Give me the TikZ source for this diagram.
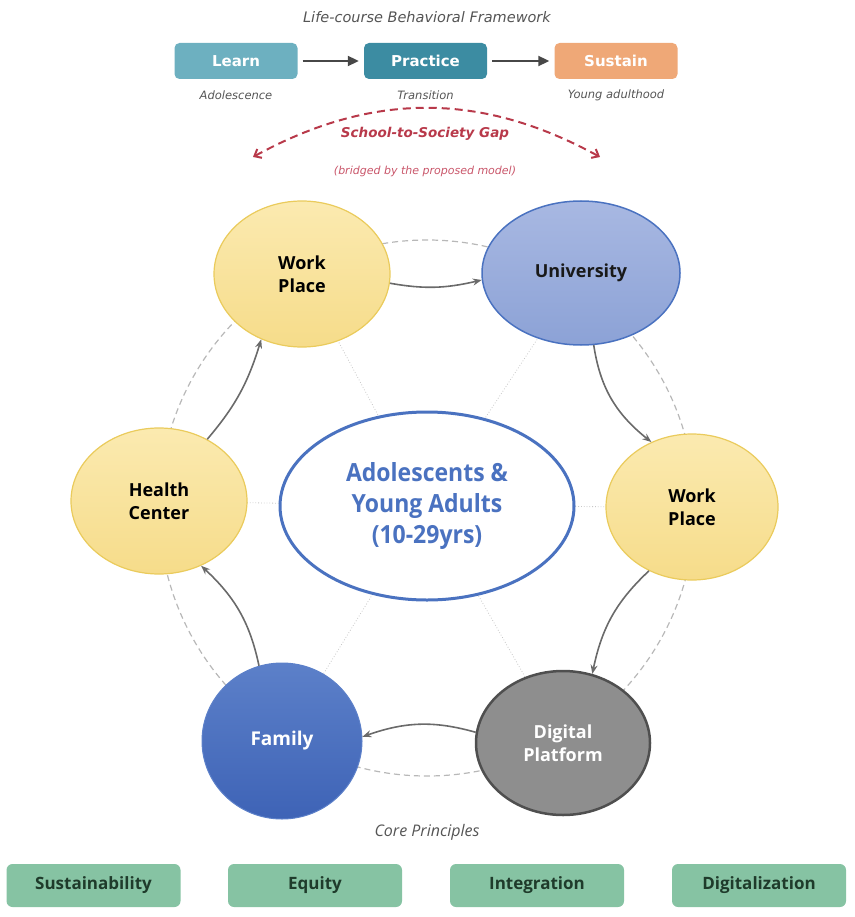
\documentclass[tikz,border=0pt]{standalone}
\usepackage{fontspec}
\setmainfont{DejaVu Sans}
\newfontfamily\osans{Open Sans}
\newfontfamily\osanscond[FakeStretch=0.92]{Open Sans}
\usetikzlibrary{arrows.meta,bending,shapes.geometric}
\definecolor{learnc}{HTML}{6DB0C0}
\definecolor{practc}{HTML}{3C8CA2}
\definecolor{sustc}{HTML}{EFA877}
\definecolor{gapred}{HTML}{B8394A}
\definecolor{bridgec}{HTML}{C9566A}
\definecolor{ytop}{HTML}{FBEAB0}
\definecolor{ybot}{HTML}{F6DC8A}
\definecolor{yborder}{HTML}{EACB5C}
\definecolor{utop}{HTML}{A8B8E2}
\definecolor{ubot}{HTML}{8CA2D6}
\definecolor{ublue}{HTML}{4A72C0}
\definecolor{ftop}{HTML}{5C80C9}
\definecolor{fbot}{HTML}{3E63B6}
\definecolor{dgray}{HTML}{8E8E8E}
\definecolor{dborder}{HTML}{4F4F4F}
\definecolor{greenbox}{HTML}{86C3A3}
\definecolor{greentext}{HTML}{1F3B2B}
\definecolor{arrowg}{HTML}{6A6A6A}
\definecolor{textg}{HTML}{555555}
\begin{document}
\begin{tikzpicture}[x=1pt,y=1pt,
  stagebox/.style={rounded corners=5pt, minimum width=123pt, minimum height=36pt, inner sep=0pt, text=white, font=\fontsize{15}{18}\selectfont\bfseries},
  subtxt/.style={text=textg, font=\fontsize{11.5}{13}\selectfont\itshape},
  toparrow/.style={draw=black!72, line width=2pt, -{Triangle[length=11pt,width=10pt]}},
  ynode/.style={ellipse, draw=yborder, line width=1.2pt, top color=ytop, bottom color=ybot, inner sep=0pt, text=black, align=center, font=\osans\fontsize{18}{23}\selectfont\bfseries},
  unode/.style={ellipse, draw=ublue, line width=1.5pt, top color=utop, bottom color=ubot, inner sep=0pt, text=black!90, align=center, font=\osans\fontsize{18}{23}\selectfont\bfseries},
  fnode/.style={ellipse, draw=ftop, line width=1pt, top color=ftop, bottom color=fbot, inner sep=0pt, text=white, align=center, font=\osans\fontsize{19}{23}\selectfont\bfseries},
  dnode/.style={ellipse, draw=dborder, line width=2.5pt, fill=dgray, inner sep=0pt, text=white, align=center, font=\osans\fontsize{18}{23}\selectfont\bfseries},
  cyc/.style={draw=arrowg, line width=1.6pt, -{Stealth[length=9pt,width=7pt,bend]}},
  spoke/.style={draw=black!22, line width=0.8pt, dotted},
  principle/.style={rounded corners=6pt, fill=greenbox, minimum width=174pt, minimum height=43pt, inner sep=0pt, text=greentext, font=\osans\fontsize{17}{20}\selectfont\bfseries}
]
\useasboundingbox (0,0) rectangle (854,-917);

% title
\node[text=textg, font=\fontsize{14.5}{17}\selectfont\itshape] (title) at (427,-17) {Life-course Behavioral Framework};

% stages
\node[stagebox, fill=learnc] (learn) at (236,-61) {Learn};
\node[stagebox, fill=practc] (practice) at (425.5,-61) {Practice};
\node[stagebox, fill=sustc] (sustain) at (616,-61) {Sustain};
\draw[toparrow] ([xshift=5pt]learn.east) -- ([xshift=-5pt]practice.west);
\draw[toparrow] ([xshift=5pt]practice.east) -- ([xshift=-5pt]sustain.west);

\node[subtxt] (sub1) at (236,-95) {Adolescence};
\node[subtxt] (sub2) at (425.5,-95) {Transition};
\node[subtxt] (sub3) at (616,-95) {Young adulthood};

% gap arc
\coordinate (gapL) at (253,-157);
\coordinate (gapR) at (600,-157);
\draw[gapred, line width=2pt, dash pattern=on 8pt off 5pt, {Straight Barb[length=6pt,width=10pt,bend]}-{Straight Barb[length=6pt,width=10pt,bend]}] (gapL) to[bend left=29] (gapR);
\node[text=gapred, font=\fontsize{13.5}{16}\selectfont\bfseries\itshape] (gap) at (425,-134) {School-to-Society Gap};
\node[text=bridgec, font=\fontsize{11}{13}\selectfont\itshape] (bridge) at (425,-171) {(bridged by the proposed model)};

% dashed ring
\coordinate (ringc) at (427,-508);
\draw[black!28, line width=1.2pt, dash pattern=on 6pt off 4pt] (ringc) circle[radius=268];

% center node coordinate for spokes
\coordinate (cc) at (427,-506);
\foreach \p in {(302,-274),(581,-273),(692,-507),(563,-743),(282,-741),(159,-501)}{
  \draw[spoke] (cc) -- \p;
}

% center
\node[ellipse, draw=ublue, line width=3pt, fill=white, minimum width=294pt, minimum height=188pt, inner sep=0pt, align=center, text=ublue, font=\osanscond\fontsize{25}{31}\selectfont\bfseries] (center) at (cc) {Adolescents \&\\Young Adults\\(10-29yrs)};

% ring nodes
\node[ynode, minimum width=176pt, minimum height=146pt] (wp1) at (302,-274) {Work\\Place};
\node[unode, minimum width=198pt, minimum height=144pt] (univ) at (581,-273) {University};
\node[ynode, minimum width=172pt, minimum height=146pt] (wp2) at (692,-507) {Work\\Place};
\node[dnode, minimum width=174pt, minimum height=144pt] (dig) at (563,-743) {Digital\\Platform};
\node[fnode, minimum width=160pt, minimum height=156pt] (fam) at (282,-741) {Family};
\node[ynode, minimum width=176pt, minimum height=146pt] (health) at (159,-501) {Health\\Center};

% cycle arrows
\draw[cyc] (wp1.-6) to[bend right=12] (univ.184);
\draw[cyc] (univ.-80) to[bend right=22] (wp2.122);
\draw[cyc] (wp2.-124) to[bend right=18] (dig.67);
\draw[cyc] (dig.173) to[bend right=18] (fam.3);
\draw[cyc] (fam.107) to[bend right=18] (health.-57);
\draw[cyc] (health.52) to[bend right=12] (wp1.-122);

% principles
\node[text=textg, font=\osans\fontsize{16}{19}\selectfont\itshape] (core) at (427,-832) {Core Principles};
\node[principle] (p1) at (93.5,-885.5) {Sustainability};
\node[principle] (p2) at (315,-885.5) {Equity};
\node[principle] (p3) at (537,-885.5) {Integration};
\node[principle] (p4) at (759,-885.5) {Digitalization};
\end{tikzpicture}
\end{document}
